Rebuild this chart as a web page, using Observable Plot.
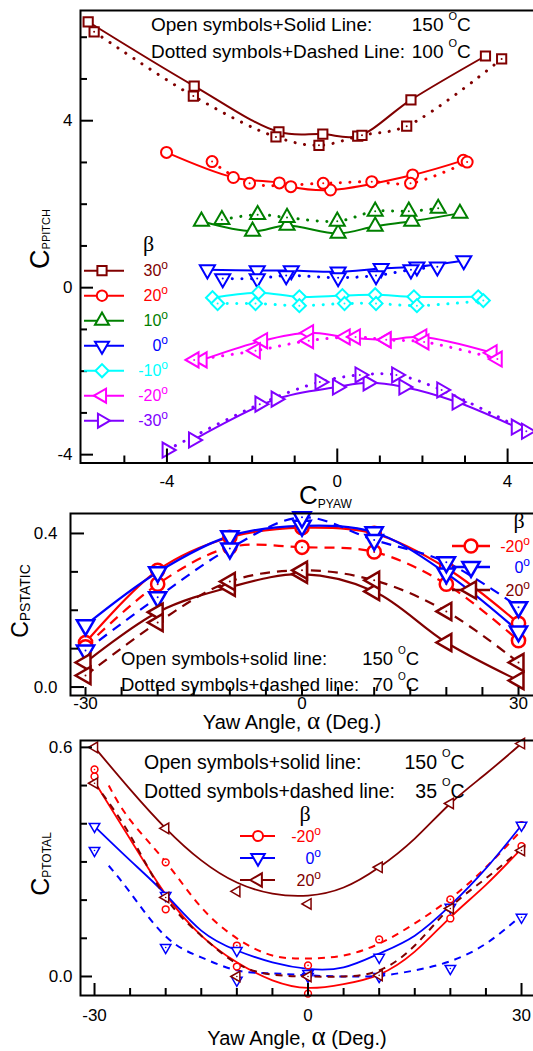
<!DOCTYPE html>
<html><head><meta charset="utf-8">
<script src="https://cdn.jsdelivr.net/npm/d3@7"></script>
<script src="https://cdn.jsdelivr.net/npm/@observablehq/plot@0.6"></script>
<style>
html,body{margin:0;padding:0;background:#fff;}
#wrap{position:relative;width:533px;height:1051px;overflow:hidden;background:#fff;}
#wrap svg{position:absolute;left:0;top:0;}
</style></head><body><div id="wrap"></div>
<script>
// ================= DATA =================
// Top panel: [C_PYAW, C_PPITCH]; open symbols = 150 °C, dotted symbols = 100 °C
const betaTop = ["30", "20", "10", "0", "-10", "-20", "-30"];
const yp150_b30 = [[-5.85,6.37],[-3.36,4.83],[-1.37,3.73],[-0.34,3.68],[0.48,3.63],[1.73,4.50],[3.48,5.55]];
const yp100_b30 = [[-5.71,6.13],[-3.38,4.59],[-1.44,3.61],[-0.43,3.41],[0.58,3.65],[1.63,3.87],[3.86,5.48]];
const yp150_b20 = [[-4.01,3.24],[-2.44,2.64],[-1.36,2.51],[-1.09,2.42],[-0.16,2.34],[1.77,2.70],[2.96,3.05]];
const yp100_b20 = [[-2.94,3.02],[-2.06,2.50],[-0.33,2.50],[0.81,2.54],[1.72,2.50],[3.05,3.01]];
const yp150_b10 = [[-3.19,1.59],[-1.99,1.35],[-1.18,1.49],[0.02,1.30],[0.89,1.47],[1.75,1.59],[2.88,1.78]];
const yp100_b10 = [[-2.71,1.63],[-1.87,1.75],[-1.18,1.68],[0.0,1.59],[0.89,1.83],[1.68,1.83],[2.37,1.90]];
const yp150_b0 = [[-3.05,0.43],[-1.88,0.41],[-1.08,0.41],[0.02,0.38],[1.03,0.46],[1.87,0.50],[2.97,0.65]];
const yp100_b0 = [[-2.69,0.22],[-1.88,0.22],[-1.20,0.29],[0.02,0.24],[0.91,0.29],[1.73,0.43],[2.35,0.50]];
const yp150_bm10 = [[-2.93,-0.24],[-1.85,-0.12],[-0.89,-0.22],[0.12,-0.19],[0.89,-0.17],[1.80,-0.22],[3.31,-0.22]];
const yp100_bm10 = [[-2.81,-0.38],[-1.92,-0.38],[-0.89,-0.43],[0.17,-0.38],[0.91,-0.38],[1.87,-0.43],[3.43,-0.31]];
const yp150_bm20 = [[-3.17,-1.73],[-1.75,-1.27],[-0.67,-1.08],[0.19,-1.18],[1.15,-1.25],[1.99,-1.18],[3.64,-1.56]];
const yp100_bm20 = [[-3.36,-1.73],[-1.92,-1.51],[-0.67,-1.27],[0.43,-1.18],[1.15,-1.25],[2.04,-1.30],[3.76,-1.71]];
const yp150_bm30 = [[-3.38,-3.65],[-1.44,-2.67],[0.0,-2.38],[0.72,-2.28],[1.56,-2.38],[2.81,-2.74],[4.20,-3.34]];
const yp100_bm30 = [[-4.0,-3.89],[-1.82,-2.79],[-0.41,-2.26],[0.53,-2.09],[1.39,-2.09],[2.45,-2.45],[4.44,-3.44]];
const topTickLabels = [-4, 0, 4];
const topXMinor = [-5, -3, -2, -1, 1, 2, 3];
const topYMinor = [-3, -2, -1, 1, 2, 3, 5, 6];

// Middle panel: C_PSTATIC vs yaw angle; 150 °C (open) and 70 °C (dotted)
const yawAngles = [-30, -20, -10, 0, 10, 20, 30];
const betaMid = ["-20", "0", "20"];
const cps150_m20 = [0.116, 0.304, 0.390, 0.415, 0.400, 0.310, 0.166];
const cps70_m20  = [0.105, 0.268, 0.364, 0.364, 0.352, 0.268, 0.121];
const cps150_0   = [0.161, 0.299, 0.393, 0.420, 0.403, 0.296, 0.145];
const cps70_0    = [0.095, 0.234, 0.361, 0.442, 0.383, 0.325, 0.208];
const cps150_20  = [0.064, 0.195, 0.260, 0.294, 0.249, 0.116, 0.017];
const cps70_20   = [0.030, 0.168, 0.275, 0.304, 0.278, 0.197, 0.064];
const yawTickLabels = [-30, 0, 30];
const yawMinor = [-25, -20, -15, -10, -5, 5, 10, 15, 20, 25];
const midYLabels = [0.0, 0.4];
const midYMinor = [0.1, 0.2, 0.3];

// Bottom panel: C_PTOTAL vs yaw angle; 150 °C (open) and 35 °C (dotted)
const cpt150_m20 = [0.524, 0.176, 0.026, -0.045, null, 0.152, 0.341];
const cpt35_m20  = [0.542, 0.299, 0.081, 0.029, 0.097, 0.202, 0.396];
const cpt150_0   = [0.393, 0.212, 0.068, 0.008, 0.050, 0.181, 0.396];
const cpt35_0    = [0.330, 0.076, -0.010, 0.000, 0.000, 0.021, 0.155];
const cpt150_20  = [0.600, 0.388, 0.223, 0.190, 0.286, 0.453, 0.610];
const cpt35_20   = [0.506, 0.207, 0.000, 0.000, 0.003, 0.178, 0.330];
// fitted curves
const fitAngles  = [-30, -25, -20, -15, -10, -5, 0, 5, 10, 15, 20, 25, 30];
const fitAnglesD = [-28, -25, -20, -15, -10, -5, 0, 5, 10, 15, 20, 25, 30];
const fit150_m20 = [0.51, 0.36, 0.215, 0.107, 0.037, -0.01, -0.03, -0.02, 0.005, 0.065, 0.155, 0.24, 0.335];
const fit35_m20  = [0.50, 0.41, 0.30, 0.181, 0.10, 0.055, 0.047, 0.055, 0.086, 0.139, 0.204, 0.286, 0.383];
const fit150_0   = [0.393, 0.304, 0.215, 0.12, 0.068, 0.037, 0.02, 0.024, 0.06, 0.107, 0.186, 0.283, 0.396];
const fit35_0    = [0.29, 0.22, 0.105, 0.05, 0.016, 0.008, 0.003, 0.0, 0.002, 0.016, 0.04, 0.086, 0.16];
const fit150_20  = [0.60, 0.49, 0.388, 0.304, 0.246, 0.217, 0.212, 0.233, 0.286, 0.361, 0.453, 0.531, 0.61];
const fit35_20   = [0.506, 0.37, 0.207, 0.107, 0.034, 0.005, 0.0, 0.0, 0.016, 0.081, 0.181, 0.257, 0.335];
const botYLabels = [0.0, 0.6];
const botYMinor = [0.1, 0.2, 0.3, 0.4, 0.5];

// ================= STYLE / HELPERS =================
const W = 545, H = 1051;
const FONT = "'Liberation Sans', Arial, Helvetica, sans-serif";
const SERIF = "'Liberation Serif', 'DejaVu Serif', 'Times New Roman', serif";
const baseStyle = {background: "transparent", fontFamily: FONT, fontSize: "17px", maxWidth: "none", overflow: "visible", color: "black"};
const fmtInt = d => String(d);
const fmt1 = d => d.toFixed(1);
const pts = arr => arr.map(([x, y]) => ({x, y}));
const zipA = (ang, vals) => ang.map((a, i) => ({x: a, y: vals[i]})).filter(d => d.y != null);
const symType = {square: d3.symbolSquare, circle: d3.symbolCircle, triangle: d3.symbolTriangle};

function frameTicks(innerW, innerH, xMaj, xMin, yMaj, yMin, L) {
  return [
    Plot.tickX(xMaj, {x: d => d, insetTop: innerH - L.xMaj, stroke: "black", strokeWidth: 2}),
    Plot.tickX(xMin, {x: d => d, insetTop: innerH - L.xMin, stroke: "black", strokeWidth: 2}),
    Plot.tickY(yMaj, {y: d => d, insetRight: innerW - L.yMaj, stroke: "black", strokeWidth: 2}),
    Plot.tickY(yMin, {y: d => d, insetRight: innerW - L.yMin, stroke: "black", strokeWidth: 2})
  ];
}

function seriesMarks(open, dotted, s, o) {
  const lines = [
    Plot.line(o.openLine || open, {x: "x", y: "y", stroke: s.color, strokeWidth: o.lw, curve: o.curve}),
    Plot.line(o.dotLine || dotted, {x: "x", y: "y", stroke: s.color, strokeWidth: o.dw, strokeDasharray: o.dash, strokeLinecap: o.cap || "butt", curve: o.curve})
  ];
  const dots = [
    Plot.dot(open, {x: "x", y: "y", symbol: s.symbol, rotate: s.rotate, r: s.r, stroke: s.color, strokeWidth: o.sw, fill: "white"}),
    Plot.dot(dotted, {x: "x", y: "y", symbol: s.symbol, rotate: s.rotate, r: s.r, stroke: s.color, strokeWidth: o.sw, fill: "white"}),
    Plot.dot(dotted, {x: "x", y: "y", r: o.cdot, fill: s.color, stroke: "none"})
  ];
  return {lines, dots};
}

function addText(svg, x, y, parts, opts = {}) {
  const t = d3.select(svg).append("text")
    .attr("x", x).attr("y", y)
    .attr("text-anchor", opts.anchor || "start")
    .attr("font-family", opts.family || FONT)
    .attr("font-size", opts.size || 17)
    .attr("fill", opts.fill || "black");
  if (opts.transform) t.attr("transform", opts.transform);
  for (const p of parts) {
    const ts = t.append("tspan").text(p.t);
    if (p.size) ts.attr("font-size", p.size);
    if (p.dy) ts.attr("dy", p.dy);
    if (p.family) ts.attr("font-family", p.family);
  }
  return t;
}

function tempNote(svg, x, y, label, num, xNumEnd, size) {
  addText(svg, x, y, [{t: label}], {size});
  addText(svg, xNumEnd, y, [{t: num}], {size, anchor: "end"});
  addText(svg, xNumEnd + 5, y, [{t: "O", size: Math.round(size * 0.56), dy: -Math.round(size * 0.6)}, {t: "C", dy: Math.round(size * 0.6)}], {size});
}

function legendRow(svg, L, s, label) {
  const g = d3.select(svg).append("g");
  g.append("line").attr("x1", L.x1).attr("x2", L.x2).attr("y1", L.y).attr("y2", L.y)
    .attr("stroke", s.color).attr("stroke-width", L.sw);
  g.append("path").attr("d", d3.symbol(symType[s.symbol], Math.PI * L.r * L.r)())
    .attr("transform", `translate(${L.xm},${L.y}) rotate(${s.rotate})`)
    .attr("fill", "white").attr("stroke", s.color).attr("stroke-width", L.sw);
  addText(svg, L.xl, L.y + L.size * 0.36, [{t: label}, {t: "o", size: Math.round(L.size * 0.72), dy: -L.size * 0.45}], {size: L.size, anchor: "end", fill: s.color});
}

const wrap = document.getElementById("wrap");

// ================= TOP PANEL =================
const topSeries = [
  {color: "#800000", symbol: "square",   rotate: 0,   r: 5.2, open: yp150_b30,  dotted: yp100_b30},
  {color: "#ff0000", symbol: "circle",   rotate: 0,   r: 5.5, open: yp150_b20,  dotted: yp100_b20},
  {color: "#008000", symbol: "triangle", rotate: 0,   r: 5.6, open: yp150_b10,  dotted: yp100_b10},
  {color: "#0000ff", symbol: "triangle", rotate: 180, r: 5.6, open: yp150_b0,   dotted: yp100_b0},
  {color: "#00ffff", symbol: "square",   rotate: 45,  r: 5.2, open: yp150_bm10, dotted: yp100_bm10},
  {color: "#ff00ff", symbol: "triangle", rotate: 270, r: 5.6, open: yp150_bm20, dotted: yp100_bm20},
  {color: "#8000ff", symbol: "triangle", rotate: 90,  r: 5.6, open: yp150_bm30, dotted: yp100_bm30}
];
{
  const mL = 80, mT = 10, bottom = 462.5;
  const lines = [], dots = [];
  for (const s of topSeries) {
    const m = seriesMarks(pts(s.open), pts(s.dotted), s, {lw: 2, dw: 3, dash: "0.1,9.5", cap: "round", curve: "catmull-rom", sw: 2, cdot: 1});
    lines.push(...m.lines); dots.push(...m.dots);
  }
  const svg = Plot.plot({
    width: W, height: H, marginLeft: mL, marginRight: 0, marginTop: mT, marginBottom: H - bottom,
    x: {domain: [-6.03, 4.89], label: null},
    y: {domain: [-4.2, 6.64], label: null},
    style: baseStyle,
    marks: [
      ...lines, ...dots,
      ...frameTicks(W - mL, bottom - mT, topTickLabels, topXMinor, topTickLabels, topYMinor, {xMaj: 14, xMin: 7, yMaj: 13, yMin: 7}),
      Plot.frame({stroke: "black", strokeWidth: 2}),
      Plot.axisX(topTickLabels, {tickSize: 0, tickPadding: 12, tickFormat: fmtInt, label: null, fontSize: 17}),
      Plot.axisY(topTickLabels, {tickSize: 0, tickPadding: 8, tickFormat: fmtInt, label: null, fontSize: 17})
    ]
  });
  wrap.appendChild(svg);
  tempNote(svg, 151, 30.6, "Open symbols+Solid Line:", "150", 443.5, 19);
  tempNote(svg, 151, 57.8, "Dotted symbols+Dashed Line:", "100", 443.5, 19);
  addText(svg, 148.5, 251, [{t: "β"}], {family: SERIF, size: 22, anchor: "middle"});
  topSeries.forEach((s, i) => legendRow(svg, {x1: 84, x2: 124, xm: 102, y: 270.7 + 25 * i, sw: 2, r: 5.2, xl: 168, size: 16}, s, betaTop[i]));
  addText(svg, 49, 239, [{t: "C"}, {t: "PPITCH", size: 11, dy: 1}], {size: 27, anchor: "middle", transform: "rotate(-90 49 239)"});
  addText(svg, 299, 504, [{t: "C"}, {t: "PYAW", size: 12, dy: 4}], {size: 26});
}

// ================= MIDDLE PANEL =================
const midSeries = [
  {color: "#ff0000", symbol: "circle",   rotate: 0,   r: 6.6, open: cps150_m20, dotted: cps70_m20},
  {color: "#0000ff", symbol: "triangle", rotate: 180, r: 6.4, open: cps150_0,   dotted: cps70_0},
  {color: "#800000", symbol: "triangle", rotate: 270, r: 6.4, open: cps150_20,  dotted: cps70_20}
];
{
  const mL = 70, mT = 513, bottom = 695;
  const lines = [], dots = [];
  for (const s of midSeries) {
    const m = seriesMarks(zipA(yawAngles, s.open), zipA(yawAngles, s.dotted), s, {lw: 2.2, dw: 2.2, dash: "10,7", curve: "catmull-rom", sw: 2.5, cdot: 1});
    lines.push(...m.lines); dots.push(...m.dots);
  }
  const svg = Plot.plot({
    width: W, height: H, marginLeft: mL, marginRight: 0, marginTop: mT, marginBottom: H - bottom,
    x: {domain: [-32.08, 33.74], label: null},
    y: {domain: [-0.022, 0.452], label: null},
    style: baseStyle,
    marks: [
      ...lines, ...dots,
      ...frameTicks(W - mL, bottom - mT, yawTickLabels, yawMinor, midYLabels, midYMinor, {xMaj: 8, xMin: 8, yMaj: 14, yMin: 8}),
      Plot.frame({stroke: "black", strokeWidth: 2}),
      Plot.axisX(yawTickLabels, {tickSize: 0, tickPadding: 1, tickFormat: fmtInt, label: null, fontSize: 17}),
      Plot.axisY(midYLabels, {tickSize: 0, tickPadding: 13, tickFormat: fmt1, label: null, fontSize: 17})
    ]
  });
  wrap.appendChild(svg);
  tempNote(svg, 121, 665, "Open symbols+solid line:", "150", 393, 18.5);
  tempNote(svg, 121, 691, "Dotted symbols+dashed line:", "70", 393, 18.5);
  addText(svg, 519, 528, [{t: "β"}], {family: SERIF, size: 22, anchor: "middle"});
  const rowsY = [546, 567, 590];
  midSeries.forEach((s, i) => legendRow(svg, {x1: 452, x2: 490, xm: 471, y: rowsY[i], sw: 2.5, r: 6.4, xl: 530, size: 16}, s, betaMid[i]));
  addText(svg, 28, 601, [{t: "C"}, {t: "PSTATIC", size: 14, dy: 2}], {size: 23, anchor: "middle", transform: "rotate(-90 28 601)"});
  addText(svg, 292, 729, [{t: "Yaw Angle, "}, {t: "α", family: SERIF, size: 25}, {t: " (Deg.)"}], {size: 20, anchor: "middle"});
}

// ================= BOTTOM PANEL =================
const botSeries = [
  {color: "#ff0000", symbol: "circle",   rotate: 0,   r: 3.4, open: cpt150_m20, dotted: cpt35_m20, fitO: fit150_m20, fitD: fit35_m20, fitDA: fitAnglesD},
  {color: "#0000ff", symbol: "triangle", rotate: 180, r: 3.9, open: cpt150_0,   dotted: cpt35_0,   fitO: fit150_0,   fitD: fit35_0,   fitDA: fitAnglesD},
  {color: "#800000", symbol: "triangle", rotate: 270, r: 3.9, open: cpt150_20,  dotted: cpt35_20,  fitO: fit150_20,  fitD: fit35_20,  fitDA: fitAngles}
];
{
  const mL = 80, mT = 740, bottom = 995;
  const lines = [], dots = [];
  for (const s of botSeries) {
    const m = seriesMarks(zipA(yawAngles, s.open), zipA(yawAngles, s.dotted), s,
      {lw: 1.8, dw: 2, dash: "7,6", curve: "natural", sw: 1.5, cdot: 0.8,
       openLine: zipA(fitAngles, s.fitO), dotLine: zipA(s.fitDA, s.fitD)});
    lines.push(...m.lines); dots.push(...m.dots);
  }
  const svg = Plot.plot({
    width: W, height: H, marginLeft: mL, marginRight: 0, marginTop: mT, marginBottom: H - bottom,
    x: {domain: [-31.97, 33.37], label: null},
    y: {domain: [-0.0498, 0.618], label: null},
    style: baseStyle,
    marks: [
      ...lines, ...dots,
      ...frameTicks(W - mL, bottom - mT, yawTickLabels, yawMinor, botYLabels, botYMinor, {xMaj: 12, xMin: 7, yMaj: 12, yMin: 7}),
      Plot.frame({stroke: "black", strokeWidth: 2}),
      Plot.axisX(yawTickLabels, {tickSize: 0, tickPadding: 13, tickFormat: fmtInt, label: null, fontSize: 17}),
      Plot.axisY(botYLabels, {tickSize: 0, tickPadding: 8, tickFormat: fmt1, label: null, fontSize: 17})
    ]
  });
  wrap.appendChild(svg);
  tempNote(svg, 144, 769, "Open symbols+solid line:", "150", 437, 19.5);
  tempNote(svg, 144, 798, "Dotted symbols+dashed line:", "35", 437, 19.5);
  addText(svg, 305, 821, [{t: "β"}], {family: SERIF, size: 22, anchor: "middle"});
  const rowsY = [836, 858, 880];
  botSeries.forEach((s, i) => legendRow(svg, {x1: 240, x2: 275, xm: 258, y: rowsY[i], sw: 2, r: 5, xl: 321, size: 16}, s, betaMid[i]));
  addText(svg, 49, 864, [{t: "C"}, {t: "PTOTAL", size: 12, dy: 2}], {size: 25, anchor: "middle", transform: "rotate(-90 49 864)"});
  addText(svg, 297, 1045, [{t: "Yaw Angle, "}, {t: "α", family: SERIF, size: 27}, {t: " (Deg.)"}], {size: 20, anchor: "middle"});
}
</script></body></html>
